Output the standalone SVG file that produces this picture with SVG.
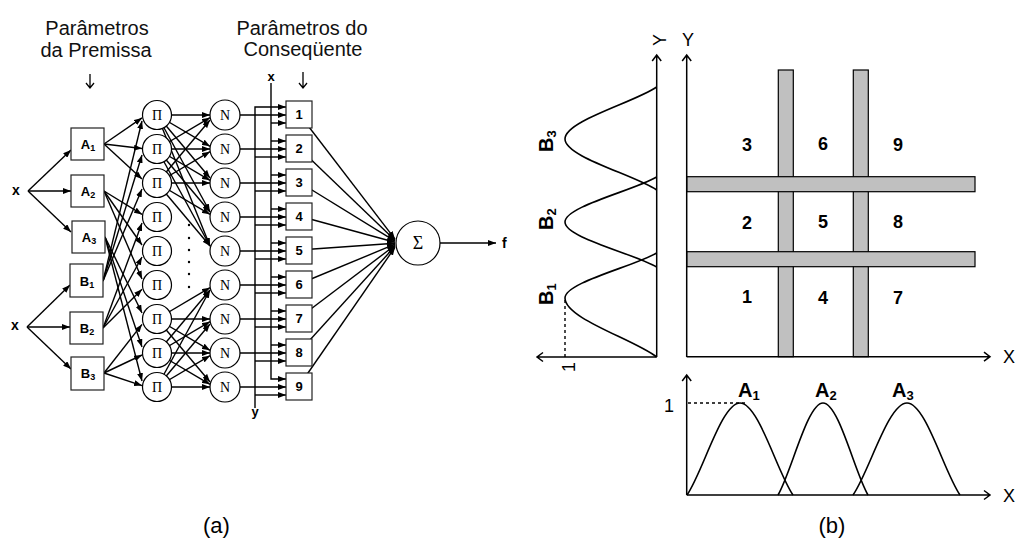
<svg xmlns="http://www.w3.org/2000/svg" width="1020" height="543" viewBox="0 0 1020 543">
<defs>
<marker id="ah" viewBox="0 0 8 6" refX="8" refY="3" markerWidth="8" markerHeight="6" markerUnits="userSpaceOnUse" orient="auto"><path d="M0,0L8,3L0,6z" fill="#000"/></marker>
</defs>
<style>
.ln{stroke:#000;stroke-width:1.4;fill:none;marker-end:url(#ah)}
.pl{stroke:#000;stroke-width:1.3;fill:none}
.ax{stroke:#000;stroke-width:1.5;fill:none}
.cv{stroke:#000;stroke-width:1.6;fill:none}
.dt{stroke:#000;stroke-width:1.4;fill:none;stroke-dasharray:3,3}
.c{fill:#fff;stroke:#000;stroke-width:1.2}
.bx{fill:#fff;stroke:#222;stroke-width:1.2}
.bar{fill:#c0c0c0;stroke:#000;stroke-width:1.2}
.hd{font-family:"Liberation Sans",Arial,sans-serif;font-size:20px;fill:#111;text-anchor:middle}
.b{font-family:"Liberation Sans",Arial,sans-serif;font-weight:bold;fill:#000}
.s{font-family:"Liberation Serif","Times New Roman",serif;font-size:14px;text-anchor:middle;fill:#000}
.r{font-family:"Liberation Sans",Arial,sans-serif;fill:#000}
</style>

<!-- headers -->
<text class="hd" x="97" y="35">Parâmetros</text>
<text class="hd" x="96" y="57">da Premissa</text>
<text class="hd" x="302" y="35">Parâmetros do</text>
<text class="hd" x="303" y="56">Conseqüente</text>
<path class="pl" d="M90,74V88M86,83L90,88L94,83"/>
<path class="pl" d="M303,72V88M299,83L303,88L307,83"/>

<g id="connectors">
<!-- inputs -->
<path class="ln" d="M28,191L71,150"/>
<path class="ln" d="M28,191L71,191"/>
<path class="ln" d="M28,191L71,232"/>
<path class="ln" d="M27,327L70,285"/>
<path class="ln" d="M27,327L70,327"/>
<path class="ln" d="M27,327L71,369"/>
<!-- A/B to Pi -->
<path class="ln" d="M104,144L142,117.9"/>
<path class="ln" d="M104,144L142,148.5"/>
<path class="ln" d="M104,144L142,179.1"/>
<path class="ln" d="M104,191L142,214.4"/>
<path class="ln" d="M104,191L142,245"/>
<path class="ln" d="M104,191L142,279"/>
<path class="ln" d="M105,237L142,313"/>
<path class="ln" d="M105,237L142,347"/>
<path class="ln" d="M105,237L142,381"/>
<path class="ln" d="M103,281L142,121"/>
<path class="ln" d="M103,281L142,155"/>
<path class="ln" d="M103,281L142,189"/>
<path class="ln" d="M103,328L142,223"/>
<path class="ln" d="M103,328L142,257"/>
<path class="ln" d="M103,328L142,289.3"/>
<path class="ln" d="M104,373L142,324.4"/>
<path class="ln" d="M104,373L142,355"/>
<path class="ln" d="M104,373L142,385.6"/>
<!-- Pi to N -->
<path class="ln" d="M157,115L210,115"/>
<path class="ln" d="M157,115L210,146.3"/>
<path class="ln" d="M157,115L210,178"/>
<path class="ln" d="M157,115L210,212"/>
<path class="ln" d="M157,115L210,246"/>
<path class="ln" d="M157,149L210,117.7"/>
<path class="ln" d="M157,149L210,149"/>
<path class="ln" d="M157,149L210,180.3"/>
<path class="ln" d="M157,149L210,212"/>
<path class="ln" d="M157,149L210,246"/>
<path class="ln" d="M157,183L210,120"/>
<path class="ln" d="M157,183L210,151.7"/>
<path class="ln" d="M157,183L210,183"/>
<path class="ln" d="M157,183L210,214.3"/>
<path class="ln" d="M157,183L210,246"/>
<path class="ln" d="M157,319L210,287.7"/>
<path class="ln" d="M157,319L210,319"/>
<path class="ln" d="M157,319L210,350.3"/>
<path class="ln" d="M157,319L210,382"/>
<path class="ln" d="M157,353L210,290"/>
<path class="ln" d="M157,353L210,321.7"/>
<path class="ln" d="M157,353L210,353"/>
<path class="ln" d="M157,353L210,384.3"/>
<path class="ln" d="M157,387L210,290"/>
<path class="ln" d="M157,387L210,324"/>
<path class="ln" d="M157,387L210,355.7"/>
<path class="ln" d="M157,387L210,387"/>
<!-- x and y buses -->
<path class="ln" d="M271,83V379H286"/>
<path class="ln" d="M255,408V107H286"/>
<path class="ln" d="M271,123H286"/>
<path class="ln" d="M271,141H286"/>
<path class="ln" d="M271,175H286"/>
<path class="ln" d="M271,209H286"/>
<path class="ln" d="M271,243H286"/>
<path class="ln" d="M271,277H286"/>
<path class="ln" d="M271,311H286"/>
<path class="ln" d="M271,345H286"/>
<path class="ln" d="M255,157H286"/>
<path class="ln" d="M255,191H286"/>
<path class="ln" d="M255,225H286"/>
<path class="ln" d="M255,259H286"/>
<path class="ln" d="M255,293H286"/>
<path class="ln" d="M255,327H286"/>
<path class="ln" d="M255,361H286"/>
<path class="ln" d="M255,395H286"/>
<!-- N to consequent -->
<path class="ln" d="M225,115H286"/>
<path class="ln" d="M225,149H286"/>
<path class="ln" d="M225,183H286"/>
<path class="ln" d="M225,217H286"/>
<path class="ln" d="M225,251H286"/>
<path class="ln" d="M225,285H286"/>
<path class="ln" d="M225,319H286"/>
<path class="ln" d="M225,353H286"/>
<path class="ln" d="M225,387H286"/>
<!-- consequent to Sigma -->
<path class="ln" d="M299,114L395,239.1"/>
<path class="ln" d="M299,148L395,240.2"/>
<path class="ln" d="M299,182L395,241.2"/>
<path class="ln" d="M299,216L395,242.2"/>
<path class="ln" d="M299,250L395,243.2"/>
<path class="ln" d="M299,284L395,244.2"/>
<path class="ln" d="M299,318L395,245.3"/>
<path class="ln" d="M299,352L395,246.3"/>
<path class="ln" d="M299,386L395,247.3"/>
<path class="ln" d="M440,243H496"/>
</g>

<!-- input labels -->
<text class="b" font-size="14" x="16" y="195" text-anchor="middle">x</text>
<text class="b" font-size="14" x="15" y="330" text-anchor="middle">x</text>
<text class="b" font-size="13" x="271" y="81" text-anchor="middle">x</text>
<text class="b" font-size="13" x="255" y="416" text-anchor="middle">y</text>
<text class="b" font-size="14" x="502" y="248">f</text>

<g id="premise">
<g id="A1"><rect class="bx" x="71" y="128" width="33" height="32"/><text class="b" font-size="13" x="88" y="149" text-anchor="middle">A<tspan font-size="9" dy="2">1</tspan></text></g>
<g id="A2"><rect class="bx" x="71" y="175" width="33" height="32"/><text class="b" font-size="13" x="88" y="196" text-anchor="middle">A<tspan font-size="9" dy="2">2</tspan></text></g>
<g id="A3"><rect class="bx" x="72" y="221" width="33" height="32"/><text class="b" font-size="13" x="89" y="242" text-anchor="middle">A<tspan font-size="9" dy="2">3</tspan></text></g>
<g id="B1"><rect class="bx" x="70" y="264" width="33" height="33"/><text class="b" font-size="13" x="87" y="286" text-anchor="middle">B<tspan font-size="9" dy="2">1</tspan></text></g>
<g id="B2"><rect class="bx" x="70" y="312" width="33" height="32"/><text class="b" font-size="13" x="87" y="333" text-anchor="middle">B<tspan font-size="9" dy="2">2</tspan></text></g>
<g id="B3"><rect class="bx" x="71" y="357" width="33" height="33"/><text class="b" font-size="13" x="88" y="378" text-anchor="middle">B<tspan font-size="9" dy="2">3</tspan></text></g>
</g>

<g id="pi-layer">
<g id="P1"><circle class="c" cx="157" cy="115" r="14.5"/><text class="s" x="157" y="120">Π</text></g>
<g id="P2"><circle class="c" cx="157" cy="149" r="14.5"/><text class="s" x="157" y="154">Π</text></g>
<g id="P3"><circle class="c" cx="157" cy="183" r="14.5"/><text class="s" x="157" y="188">Π</text></g>
<g id="P4"><circle class="c" cx="157" cy="217" r="14.5"/><text class="s" x="157" y="222">Π</text></g>
<g id="P5"><circle class="c" cx="157" cy="251" r="14.5"/><text class="s" x="157" y="256">Π</text></g>
<g id="P6"><circle class="c" cx="157" cy="285" r="14.5"/><text class="s" x="157" y="290">Π</text></g>
<g id="P7"><circle class="c" cx="157" cy="319" r="14.5"/><text class="s" x="157" y="324">Π</text></g>
<g id="P8"><circle class="c" cx="157" cy="353" r="14.5"/><text class="s" x="157" y="358">Π</text></g>
<g id="P9"><circle class="c" cx="157" cy="387" r="14.5"/><text class="s" x="157" y="392">Π</text></g>
</g>

<g id="dots" fill="#000">
<circle cx="189" cy="225" r="1.2"/><circle cx="189" cy="238" r="1.2"/><circle cx="189" cy="250" r="1.2"/><circle cx="189" cy="262" r="1.2"/><circle cx="189" cy="274" r="1.2"/><circle cx="189" cy="287" r="1.2"/>
</g>

<g id="n-layer">
<g id="N1"><circle class="c" cx="225" cy="115" r="15"/><text class="s" x="225" y="120">N</text></g>
<g id="N2"><circle class="c" cx="225" cy="149" r="15"/><text class="s" x="225" y="154">N</text></g>
<g id="N3"><circle class="c" cx="225" cy="183" r="15"/><text class="s" x="225" y="188">N</text></g>
<g id="N4"><circle class="c" cx="225" cy="217" r="15"/><text class="s" x="225" y="222">N</text></g>
<g id="N5"><circle class="c" cx="225" cy="251" r="15"/><text class="s" x="225" y="256">N</text></g>
<g id="N6"><circle class="c" cx="225" cy="285" r="15"/><text class="s" x="225" y="290">N</text></g>
<g id="N7"><circle class="c" cx="225" cy="319" r="15"/><text class="s" x="225" y="324">N</text></g>
<g id="N8"><circle class="c" cx="225" cy="353" r="15"/><text class="s" x="225" y="358">N</text></g>
<g id="N9"><circle class="c" cx="225" cy="387" r="15"/><text class="s" x="225" y="392">N</text></g>
</g>

<g id="consequent">
<g id="C1"><rect class="bx" x="286" y="101" width="26" height="27"/><text class="b" font-size="13" x="299" y="118.5" text-anchor="middle">1</text></g>
<g id="C2"><rect class="bx" x="286" y="135" width="26" height="27"/><text class="b" font-size="13" x="299" y="152.5" text-anchor="middle">2</text></g>
<g id="C3"><rect class="bx" x="286" y="169" width="26" height="27"/><text class="b" font-size="13" x="299" y="186.5" text-anchor="middle">3</text></g>
<g id="C4"><rect class="bx" x="286" y="203" width="26" height="27"/><text class="b" font-size="13" x="299" y="220.5" text-anchor="middle">4</text></g>
<g id="C5"><rect class="bx" x="286" y="237" width="26" height="27"/><text class="b" font-size="13" x="299" y="254.5" text-anchor="middle">5</text></g>
<g id="C6"><rect class="bx" x="286" y="271" width="26" height="27"/><text class="b" font-size="13" x="299" y="288.5" text-anchor="middle">6</text></g>
<g id="C7"><rect class="bx" x="286" y="305" width="26" height="27"/><text class="b" font-size="13" x="299" y="322.5" text-anchor="middle">7</text></g>
<g id="C8"><rect class="bx" x="286" y="339" width="26" height="27"/><text class="b" font-size="13" x="299" y="356.5" text-anchor="middle">8</text></g>
<g id="C9"><rect class="bx" x="286" y="373" width="26" height="27"/><text class="b" font-size="13" x="299" y="390.5" text-anchor="middle">9</text></g>
</g>

<g id="sum"><circle class="c" cx="418" cy="243" r="22"/><text class="s" style="font-size:18px" x="418" y="249">Σ</text></g>

<text class="r" font-size="22" x="216.5" y="532.5" text-anchor="middle">(a)</text>

<!-- (b) left membership plot B -->
<g id="plotB">
<path class="ax" d="M656.7,357V55M652.2,61L656.7,55L661.2,61"/>
<path class="ax" d="M656.7,357H537M543,352.5L537,357L543,361.5"/>
<path class="cv" d="M656.7,87C633.8,102.6 565,120.8 565,139C565,156.9 633.8,174.7 656.7,190"/>
<path class="cv" d="M656.7,177C633.8,190.5 565,206.3 565,222C565,237.8 633.8,253.5 656.7,267"/>
<path class="cv" d="M656.7,253C633.8,266.5 565,282.3 565,298C565,318.7 633.8,339.3 656.7,357"/>
<path class="dt" d="M565,300V357"/>
<text class="r" font-size="18" text-anchor="middle" transform="translate(659,40) rotate(-90)" y="6.5">Y</text>
<text class="r" font-size="18" text-anchor="middle" transform="translate(568,367) rotate(-90)" y="6.5">1</text>
<text class="b" font-size="20" transform="translate(553,152) rotate(-90)">B<tspan font-size="13" dy="3">3</tspan></text>
<text class="b" font-size="20" transform="translate(553,230) rotate(-90)">B<tspan font-size="13" dy="3">2</tspan></text>
<text class="b" font-size="20" transform="translate(553,305) rotate(-90)">B<tspan font-size="13" dy="3">1</tspan></text>
</g>

<!-- (b) rule grid -->
<g id="grid">
<rect class="bar" x="778.3" y="70" width="15" height="286.7"/>
<rect class="bar" x="853.3" y="70" width="15" height="286.7"/>
<rect class="bar" x="686.7" y="176.7" width="288.3" height="15"/>
<rect class="bar" x="686.7" y="251.7" width="288.3" height="15"/>
<path class="ax" d="M686.7,357V55M682.2,61L686.7,55L691.2,61"/>
<path class="ax" d="M686.7,356.7H990M984,352.2L990,356.7L984,361.2"/>
<text class="r" font-size="18" x="688" y="45.5" text-anchor="middle">Y</text>
<text class="r" font-size="18" x="1003" y="363">X</text>
<g class="b" font-size="18" text-anchor="middle">
<text x="747" y="150.5">3</text><text x="823" y="149.5">6</text><text x="898" y="150.5">9</text>
<text x="747" y="228.5">2</text><text x="823" y="227.5">5</text><text x="898" y="227.5">8</text>
<text x="747" y="302.5">1</text><text x="823" y="303.5">4</text><text x="898" y="303.5">7</text>
</g>
</g>

<!-- (b) bottom membership plot A -->
<g id="plotA">
<path class="ax" d="M686.7,495V375M682.2,381L686.7,375L691.2,381"/>
<path class="ax" d="M686.7,495H990M984,490.5L990,495L984,499.5"/>
<path class="cv" d="M687,495C702.9,472 721.5,403 740,403C758.5,403 777.1,472 793,495"/>
<path class="cv" d="M778,495C791.5,472 807.3,403 823,403C838.8,403 854.5,472 868,495"/>
<path class="cv" d="M853,495C869.2,472 888.1,403 907,403C925.6,403 944.1,472 960,495"/>
<path class="dt" d="M688,403H748"/>
<text class="r" font-size="18" x="669" y="411.5" text-anchor="middle">1</text>
<text class="r" font-size="18" x="1003" y="501.5">X</text>
<text class="b" font-size="20" x="738" y="397">A<tspan font-size="13" dy="3">1</tspan></text>
<text class="b" font-size="20" x="815" y="397">A<tspan font-size="13" dy="3">2</tspan></text>
<text class="b" font-size="20" x="892" y="397">A<tspan font-size="13" dy="3">3</tspan></text>
</g>

<text class="r" font-size="22" x="832" y="532.5" text-anchor="middle">(b)</text>
</svg>
